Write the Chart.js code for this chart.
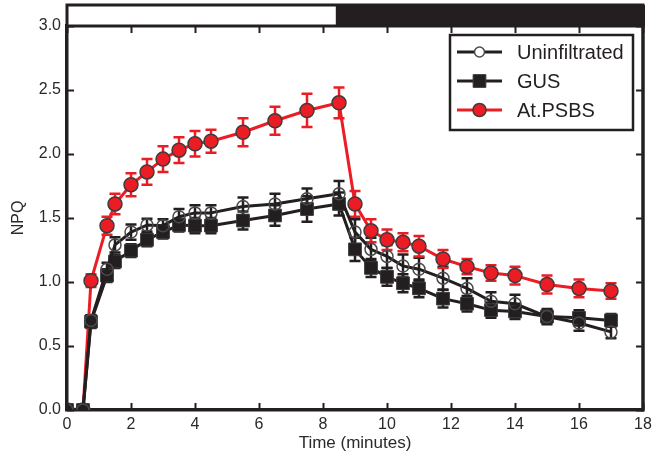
<!DOCTYPE html>
<html>
<head>
<meta charset="utf-8">
<script src="https://cdn.jsdelivr.net/npm/chart.js@4.4.1/dist/chart.umd.min.js"></script>
<style>
  html, body { margin: 0; padding: 0; background: #ffffff; }
  #wrap { width: 653px; height: 461px; }
</style>
</head>
<body>
<div id="wrap"><canvas id="npq" width="653" height="461"></canvas></div>
<script>
// Sampling times (minutes): actinic light on until 8.5 min, then dark relaxation
const times = [0, 0.5, 0.75, 1.25, 1.5, 2, 2.5, 3, 3.5, 4, 4.5, 5.5, 6.5, 7.5, 8.5,
               9, 9.5, 10, 10.5, 11, 11.75, 12.5, 13.25, 14, 15, 16, 17];

const uninfiltrated = [0, 0, 0.70, 1.10, 1.29, 1.39, 1.445, 1.44, 1.51, 1.54, 1.54, 1.59, 1.61, 1.65, 1.69,
                       1.39, 1.255, 1.20, 1.125, 1.10, 1.03, 0.95, 0.85, 0.83, 0.73, 0.68, 0.61];
const uninfiltratedErr = [0, 0, 0.04, 0.05, 0.06, 0.06, 0.05, 0.05, 0.06, 0.06, 0.06, 0.07, 0.08, 0.08, 0.10,
                          0.10, 0.09, 0.09, 0.09, 0.09, 0.09, 0.08, 0.07, 0.07, 0.06, 0.06, 0.05];

const gus = [0, 0, 0.69, 1.05, 1.16, 1.245, 1.33, 1.39, 1.445, 1.44, 1.44, 1.48, 1.52, 1.57, 1.61,
             1.255, 1.11, 1.04, 0.99, 0.95, 0.87, 0.83, 0.78, 0.77, 0.73, 0.72, 0.70];
const gusErr = [0, 0, 0.05, 0.05, 0.05, 0.05, 0.05, 0.05, 0.05, 0.06, 0.06, 0.07, 0.08, 0.10, 0.09,
                0.09, 0.07, 0.07, 0.07, 0.07, 0.07, 0.06, 0.06, 0.06, 0.05, 0.06, 0.05];

const psbs = [0, 0, 1.01, 1.44, 1.61, 1.76, 1.86, 1.96, 2.03, 2.08, 2.10, 2.17, 2.26, 2.34, 2.40,
              1.61, 1.40, 1.33, 1.31, 1.28, 1.18, 1.12, 1.07, 1.05, 0.98, 0.95, 0.93];
const psbsErr = [0, 0, 0.05, 0.07, 0.08, 0.09, 0.10, 0.10, 0.10, 0.10, 0.09, 0.11, 0.11, 0.13, 0.12,
                 0.10, 0.09, 0.08, 0.07, 0.08, 0.07, 0.06, 0.06, 0.07, 0.07, 0.07, 0.06];

const seriesNames = ['Uninfiltrated', 'GUS', 'At.PSBS'];
const xTicks = [0, 2, 4, 6, 8, 10, 12, 14, 16, 18];
const yTicks = [0, 0.5, 1.0, 1.5, 2.0, 2.5, 3.0];
// Light regime bar above the plot: light (white) then dark (black)
const lightOnUntil = 8.4;

const INK = '#231f20';
const RED = '#ec1c24';
const TEXT = '#2a2a2a';
const FONT = '"Liberation Sans", Arial, Helvetica, sans-serif';

const toPoints = vals => vals.map((v, i) => ({ x: times[i], y: v }));

const datasets = [
  {
    label: seriesNames[0], data: toPoints(uninfiltrated), errors: uninfiltratedErr,
    borderColor: INK, borderWidth: 3, errColor: INK,
    pointStyle: 'circle', pointRadius: 6, pointBackgroundColor: 'rgba(255,255,255,0)',
    pointBorderColor: '#4a4a4a', pointBorderWidth: 1.5, legendFill: '#ffffff', legendRadius: 5
  },
  {
    label: seriesNames[1], data: toPoints(gus), errors: gusErr,
    borderColor: INK, borderWidth: 3, errColor: INK,
    pointStyle: 'rect', pointRadius: 9, pointBackgroundColor: INK,
    pointBorderColor: '#3a3a3a', pointBorderWidth: 1, legendFill: INK, legendRadius: 9
  },
  {
    label: seriesNames[2], data: toPoints(psbs), errors: psbsErr,
    borderColor: RED, borderWidth: 3, errColor: RED,
    pointStyle: 'circle', pointRadius: 7, pointBackgroundColor: RED,
    pointBorderColor: '#3d3d3d', pointBorderWidth: 1.5, legendFill: RED, legendRadius: 6.5
  }
];
datasets.forEach(d => { d.tension = 0; d.fill = false; d.pointHoverRadius = d.pointRadius; });

// Vertical error bars with caps, drawn beneath the markers
const errorBars = {
  id: 'errorBars',
  beforeDatasetsDraw(chart) {
    const { ctx } = chart;
    const ys = chart.scales.y;
    chart.data.datasets.forEach((ds, di) => {
      const meta = chart.getDatasetMeta(di);
      ctx.save();
      ctx.strokeStyle = ds.errColor;
      ctx.lineWidth = 2.5;
      meta.data.forEach((pt, i) => {
        const e = ds.errors[i];
        if (!e) return;
        const v = ds.data[i].y;
        const top = ys.getPixelForValue(v + e);
        const bot = ys.getPixelForValue(v - e);
        const x = pt.x, cap = 5.5;
        ctx.beginPath();
        ctx.moveTo(x, top); ctx.lineTo(x, bot);
        ctx.moveTo(x - cap, top); ctx.lineTo(x + cap, top);
        ctx.moveTo(x - cap, bot); ctx.lineTo(x + cap, bot);
        ctx.stroke();
      });
      ctx.restore();
    });
  }
};

// Box frame: right edge, light bar on top, inward ticks on all sides
const frame = {
  id: 'frame',
  afterDraw(chart) {
    const { ctx, chartArea: a } = chart;
    const xs = chart.scales.x, ys = chart.scales.y;
    ctx.save();
    ctx.strokeStyle = INK;

    // right axis line
    ctx.lineWidth = 3.5;
    ctx.beginPath();
    ctx.moveTo(a.right, a.top); ctx.lineTo(a.right, a.bottom + 1.5);
    ctx.stroke();

    // light / dark bar
    const barTop = a.top - 21;
    const xSplit = xs.getPixelForValue(lightOnUntil);
    ctx.fillStyle = '#ffffff';
    ctx.fillRect(a.left, barTop, xSplit - a.left, a.top - barTop);
    ctx.fillStyle = INK;
    ctx.fillRect(xSplit, barTop, a.right - xSplit + 2, a.top - barTop);
    ctx.lineWidth = 3;
    ctx.strokeRect(a.left, barTop, a.right - a.left, a.top - barTop);

    // inward tick marks
    ctx.lineWidth = 2;
    ctx.beginPath();
    xTicks.forEach(v => {
      const px = Math.round(xs.getPixelForValue(v)) + 0.5;
      ctx.moveTo(px, a.bottom); ctx.lineTo(px, a.bottom - 7);
      ctx.moveTo(px, a.top); ctx.lineTo(px, a.top + 7);
    });
    yTicks.forEach(v => {
      const py = Math.round(ys.getPixelForValue(v)) + 0.5;
      ctx.moveTo(a.left, py); ctx.lineTo(a.left + 7, py);
      ctx.moveTo(a.right, py); ctx.lineTo(a.right - 7, py);
    });
    ctx.stroke();
    ctx.restore();
  }
};

// Legend box in the upper right corner of the plot
const legendBox = {
  id: 'legendBox',
  afterDraw(chart) {
    const { ctx, chartArea: a } = chart;
    const w = 183, h = 95;
    const left = a.right - 10 - w, top = a.top + 9;
    ctx.save();
    ctx.fillStyle = '#ffffff';
    ctx.fillRect(left, top, w, h);
    ctx.strokeStyle = INK;
    ctx.lineWidth = 2.5;
    ctx.strokeRect(left, top, w, h);

    chart.data.datasets.forEach((ds, i) => {
      const y = top + 17 + i * 29;
      const x0 = left + 7, x1 = left + 52, xm = (x0 + x1) / 2;
      ctx.strokeStyle = ds.borderColor;
      ctx.lineWidth = 3;
      ctx.beginPath(); ctx.moveTo(x0, y); ctx.lineTo(x1, y); ctx.stroke();

      ctx.lineWidth = ds.pointBorderWidth;
      ctx.strokeStyle = ds.pointBorderColor;
      ctx.fillStyle = ds.legendFill;
      const r = ds.legendRadius;
      ctx.beginPath();
      if (ds.pointStyle === 'rect') {
        const s = r * Math.SQRT1_2;
        ctx.rect(xm - s, y - s, 2 * s, 2 * s);
      } else {
        ctx.arc(xm, y, r, 0, Math.PI * 2);
      }
      ctx.fill();
      ctx.stroke();

      ctx.fillStyle = INK;
      ctx.font = '20px ' + FONT;
      ctx.textBaseline = 'middle';
      ctx.textAlign = 'left';
      ctx.fillText(ds.label, left + 67, y + 1);
    });
    ctx.restore();
  }
};

new Chart(document.getElementById('npq'), {
  type: 'line',
  data: { datasets },
  options: {
    responsive: false,
    animation: false,
    devicePixelRatio: 1,
    layout: { padding: { top: 26, right: 9, left: 0, bottom: 0 } },
    plugins: { legend: { display: false }, tooltip: { enabled: false } },
    elements: { line: { borderJoinStyle: 'round' } },
    scales: {
      x: {
        type: 'linear', min: 0, max: 18,
        afterBuildTicks: s => { s.ticks = xTicks.map(v => ({ value: v })); },
        afterFit: s => { s.height = 51; s.paddingLeft = 0; s.paddingRight = 0; },
        grid: { display: false, drawTicks: false },
        border: { display: true, color: INK, width: 3.5 },
        ticks: { color: TEXT, font: { family: FONT, size: 16 }, padding: 5, maxRotation: 0 },
        title: { display: true, text: 'Time (minutes)', color: TEXT,
                 font: { family: FONT, size: 17 }, padding: { top: 0, bottom: 7 } }
      },
      y: {
        min: 0, max: 3,
        afterBuildTicks: s => { s.ticks = yTicks.map(v => ({ value: v })); },
        afterFit: s => { s.width = 67; s.paddingTop = 0; s.paddingBottom = 0; },
        grid: { display: false, drawTicks: false },
        border: { display: true, color: INK, width: 3.5 },
        ticks: { color: TEXT, font: { family: FONT, size: 16 }, padding: 6,
                 callback: v => v.toFixed(1) },
        title: { display: true, text: 'NPQ', color: TEXT,
                 font: { family: FONT, size: 16 }, padding: { top: 9, bottom: 0 } }
      }
    }
  },
  plugins: [errorBars, frame, legendBox]
});
</script>
</body>
</html>
